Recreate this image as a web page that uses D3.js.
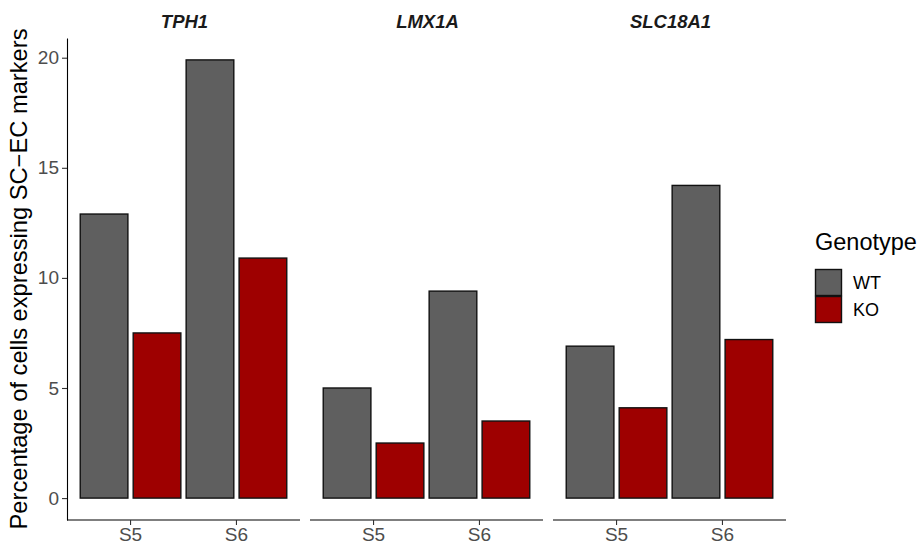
<!DOCTYPE html>
<html><head><meta charset="utf-8">
<script src="https://cdn.jsdelivr.net/npm/d3@7"></script>
<style>body{margin:0;background:#fff}svg{display:block;font-family:"Liberation Sans",Arial,sans-serif}</style>
</head><body><svg id="c" width="920" height="544"></svg>
<script>
const genes = ["TPH1","LMX1A","SLC18A1"];
const stages = ["S5","S6"];
const genotypes = ["WT","KO"];
const wtValues = [[12.9,19.9],[5.0,9.4],[6.9,14.2]];
const koValues = [[7.5,10.9],[2.5,3.5],[4.1,7.2]];
const yTicks = [0,5,10,15,20];
const colors = {WT:"#5f5f5f", KO:"#9e0000"};

const svg = d3.select("#c");
const panelW = 233, gap = 10, left0 = 67;
const y = d3.scaleLinear().domain([-0.995, 20.895]).range([520, 38]);

// y axis
const ya = svg.append("g").attr("transform",`translate(${left0},0)`)
  .call(d3.axisLeft(y).tickValues(yTicks).tickSize(5).tickPadding(3).tickSizeOuter(0));
ya.select(".domain").attr("stroke","#000").attr("stroke-width",1.1);
ya.selectAll(".tick line").attr("stroke","#333").attr("stroke-width",1.1);
ya.selectAll(".tick text").attr("fill","#4d4d4d").style("font-size","19px");

const dodge = 0.5, barW = 0.45;
genes.forEach((g,gi)=>{
  const x0 = left0 + gi*(panelW+gap);
  const xc = d3.scaleLinear().domain([0.4, 2.6]).range([x0, x0+panelW]);
  const pg = svg.append("g");
  const data = [];
  stages.forEach((s,si)=>{
    data.push({s, geno:"WT", v: wtValues[gi][si], c: si+1-dodge/2});
    data.push({s, geno:"KO", v: koValues[gi][si], c: si+1+dodge/2});
  });
  pg.selectAll("rect").data(data).join("rect")
    .attr("x", d=>xc(d.c-barW/2)).attr("width", xc(barW)-xc(0))
    .attr("y", d=>y(d.v)).attr("height", d=>y(0)-y(d.v))
    .attr("fill", d=>colors[d.geno]).attr("stroke","#111").attr("stroke-width",1.4);
  // x axis
  const xb = d3.scaleOrdinal().domain(stages).range([xc(1), xc(2)]);
  const xa = svg.append("g").attr("transform",`translate(0,520)`);
  xa.append("line").attr("x1",x0).attr("x2",x0+panelW).attr("stroke","#000").attr("stroke-width",1.1);
  stages.forEach(s=>{
    xa.append("line").attr("x1",xb(s)).attr("x2",xb(s)).attr("y2",5).attr("stroke","#333").attr("stroke-width",1.1);
    xa.append("text").attr("x",xb(s)).attr("y",20.5).attr("text-anchor","middle")
      .attr("fill","#4d4d4d").style("font-size","19px").text(s);
  });
  svg.append("text").attr("x", x0+panelW/2+1).attr("y", 28).attr("text-anchor","middle")
    .style("font-size","18.5px").style("font-weight","bold").style("font-style","italic").attr("fill","#1a1a1a").text(g);
});

svg.append("text").attr("transform","translate(27,279) rotate(-90)").attr("text-anchor","middle")
  .style("font-size","23.7px").attr("fill","#000").text("Percentage of cells expressing SC\u2212EC markers");

// legend
const lg = svg.append("g");
lg.append("text").attr("x",815).attr("y",250).style("font-size","23.5px").text("Genotype");
genotypes.forEach((gname,i)=>{
  lg.append("rect").attr("x",815.5).attr("y",269.5+i*27).attr("width",26).attr("height",26)
    .attr("fill",colors[gname]).attr("stroke","#111").attr("stroke-width",1.4);
  lg.append("text").attr("x",853).attr("y",282.5+i*27).attr("dy","0.35em").style("font-size","18px").text(gname);
});
</script></body></html>
